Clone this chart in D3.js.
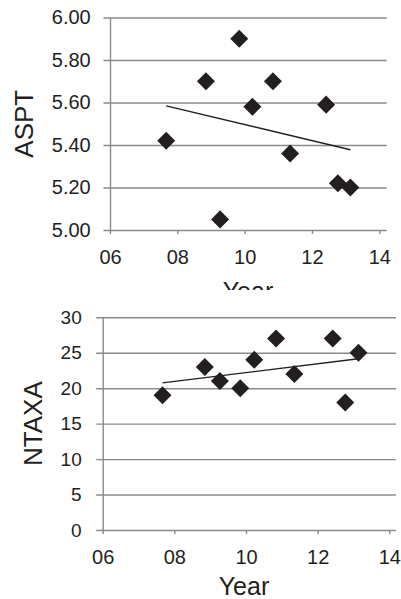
<!DOCTYPE html>
<html>
<head>
<meta charset="utf-8">
<script src="https://cdn.jsdelivr.net/npm/d3@7"></script>
<style>
body { margin: 0; background: #fff; }
text { font-family: "Liberation Sans", Arial, sans-serif; fill: #231f20; }
.grid line, .axis path, .axis line { stroke: #8a8a8a; stroke-width: 1.4; }
</style>
</head>
<body>
<svg id="chart" width="401" height="599"></svg>
<script>
// data
var years = [7.67, 8.85, 9.27, 9.84, 10.23, 10.84, 11.35, 12.42, 12.77, 13.14];
var aspt = [5.42, 5.70, 5.05, 5.90, 5.58, 5.70, 5.36, 5.59, 5.22, 5.20];
var ntaxa = [19, 23, 21, 20, 24, 27, 22, 27, 18, 25];
var xTicks = [6, 8, 10, 12, 14];
var asptTicks = [5.0, 5.2, 5.4, 5.6, 5.8, 6.0];
var ntaxaTicks = [0, 5, 10, 15, 20, 25, 30];

var svg = d3.select("#chart");

svg.append("clipPath").attr("id", "topclip")
  .append("rect").attr("x", 0).attr("y", 0).attr("width", 401).attr("height", 290);

// least squares line, like the spreadsheet trendline
function trend(xs, ys){
  var mx = d3.mean(xs), my = d3.mean(ys);
  var sxy = 0, sxx = 0;
  xs.forEach(function(x, i){
    sxy += (x-mx)*(ys[i]-my);
    sxx += (x-mx)*(x-mx);
  });
  var b = sxy/sxx;
  return function(x){ return my + b*(x-mx); };
}

function drawChart(g, opt){
  var x = d3.scaleLinear().domain([6, 14]).range([opt.left, opt.x14]);
  var y = d3.scaleLinear().domain(opt.yDomain).range([opt.bottom, opt.top]);
  var plotW = opt.right - opt.left;

  var gy = g.append("g")
    .attr("class", "axis grid")
    .attr("transform", "translate(" + opt.left + ",0)")
    .call(d3.axisLeft(y)
      .tickValues(opt.yTicks)
      .tickFormat(opt.yFormat)
      .tickSizeInner(-plotW)
      .tickSizeOuter(0)
      .tickPadding(opt.yPad));
  gy.selectAll(".tick line").attr("x1", -6.5).attr("x2", plotW);
  gy.selectAll(".tick text").style("font-size", opt.yFont + "px");

  var gx = g.append("g")
    .attr("class", "axis")
    .attr("transform", "translate(0," + opt.bottom + ")")
    .call(d3.axisBottom(x)
      .tickValues(xTicks)
      .tickFormat(d3.format("02d"))
      .tickSizeInner(4)
      .tickSizeOuter(0));
  gx.select(".domain").remove();
  gx.selectAll(".tick text")
    .attr("y", 20).attr("dy", "0.71em")
    .style("font-size", "20px");

  var f = trend(years, opt.values);
  var x0 = d3.min(years), x1 = d3.max(years);
  g.append("line")
    .attr("x1", x(x0)).attr("y1", y(f(x0)))
    .attr("x2", x(x1)).attr("y2", y(f(x1)))
    .attr("stroke", "#231f20")
    .attr("stroke-width", 1.4);

  var diamond = d3.symbol().type(d3.symbolSquare).size(162);
  g.selectAll(".pt").data(opt.values).enter().append("path")
    .attr("class", "pt")
    .attr("d", diamond)
    .attr("transform", function(d, i){
      return "translate(" + x(years[i]) + "," + y(d) + ") rotate(45)";
    })
    .attr("fill", "#231f20");

  g.append("text")
    .attr("transform", "translate(" + opt.yLabelX + "," + ((opt.top + opt.bottom)/2) + ") rotate(-90)")
    .attr("text-anchor", "middle")
    .style("font-size", "26px")
    .text(opt.yLabel);

  g.append("text")
    .attr("x", opt.xLabelX).attr("y", opt.xLabelY)
    .attr("text-anchor", "middle")
    .style("font-size", "25px")
    .text("Year");
}

drawChart(svg.append("g").attr("clip-path", "url(#topclip)"), {
  left: 110, x14: 379.3, right: 386.7, top: 17.5, bottom: 230,
  yDomain: [5, 6], yTicks: asptTicks, yFormat: d3.format(".2f"),
  yPad: 19.3, yFont: 20, values: aspt, yLabel: "ASPT",
  yLabelX: 33, xLabelX: 248, xLabelY: 300
});

drawChart(svg.append("g"), {
  left: 102.7, x14: 389.3, right: 396, top: 317.3, bottom: 530,
  yDomain: [0, 30], yTicks: ntaxaTicks, yFormat: d3.format("d"),
  yPad: 21, yFont: 19, values: ntaxa, yLabel: "NTAXA",
  yLabelX: 42, xLabelX: 244, xLabelY: 595
});
</script>
</body>
</html>
